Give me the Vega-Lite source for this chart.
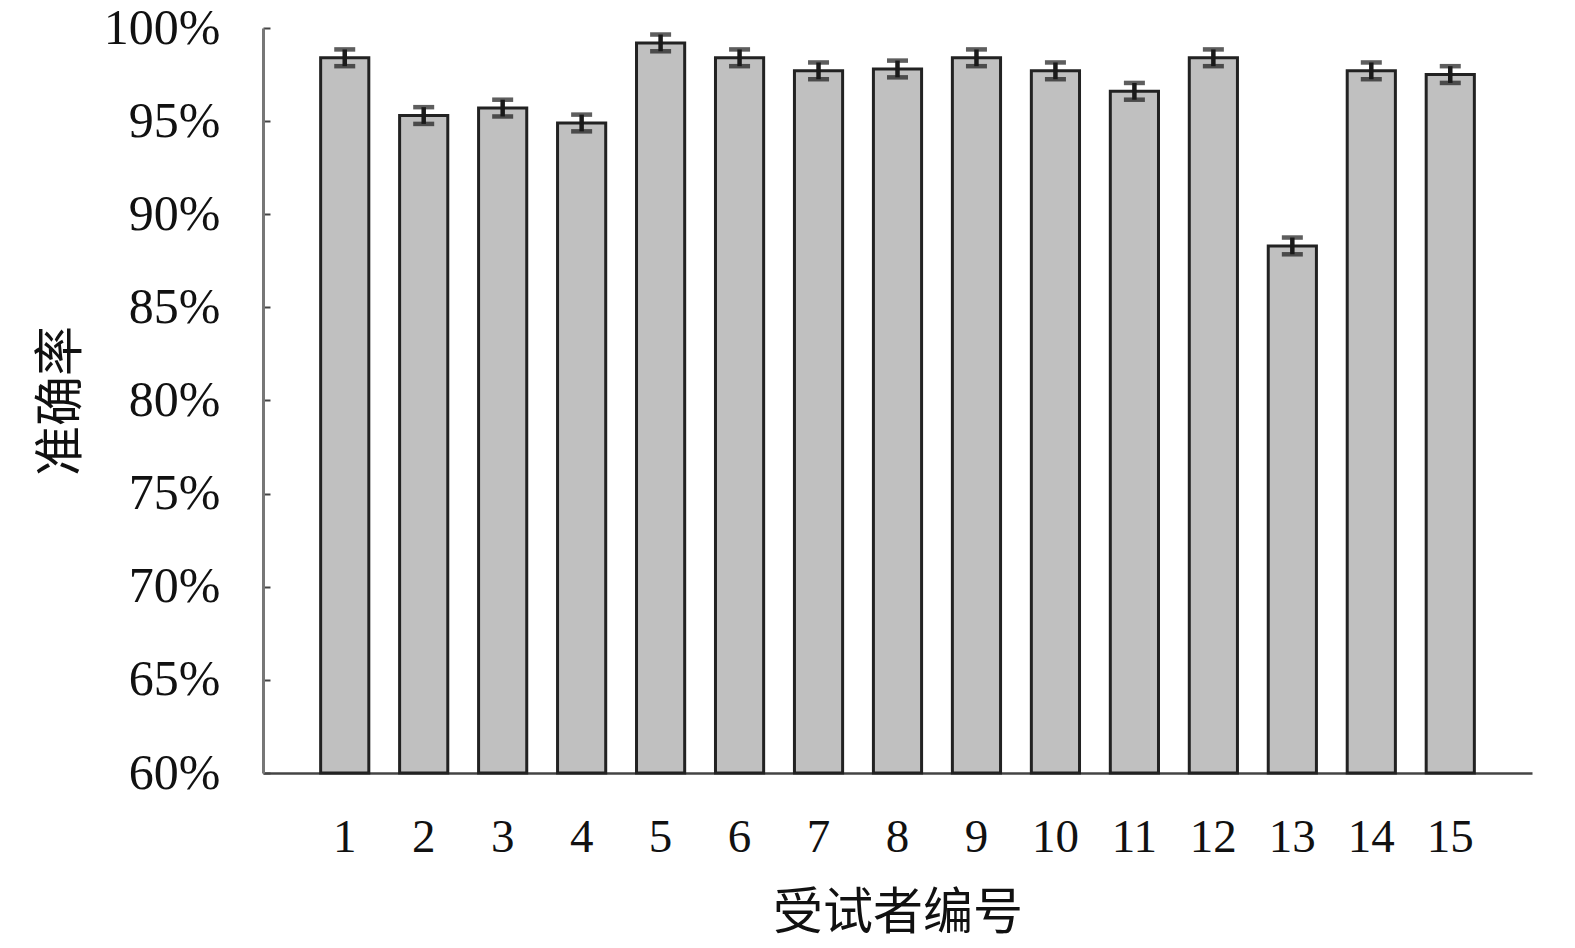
{
  "$schema": "https://vega.github.io/schema/vega-lite/v6.json",
  "autosize": {"type": "none"},
  "padding": {"left": 263, "top": 28, "right": 43, "bottom": 175},
  "width": 1269,
  "height": 745,
  "background": "white",
  "config": {"view": {"stroke": null}},
  "data": {"values": [
    {"id": "1", "acc": 0.984, "lo": 0.9795, "hi": 0.9885},
    {"id": "2", "acc": 0.953, "lo": 0.9485, "hi": 0.9575},
    {"id": "3", "acc": 0.957, "lo": 0.9525, "hi": 0.9615},
    {"id": "4", "acc": 0.949, "lo": 0.9445, "hi": 0.9535},
    {"id": "5", "acc": 0.992, "lo": 0.9875, "hi": 0.9965},
    {"id": "6", "acc": 0.984, "lo": 0.9795, "hi": 0.9885},
    {"id": "7", "acc": 0.977, "lo": 0.9725, "hi": 0.9815},
    {"id": "8", "acc": 0.978, "lo": 0.9735, "hi": 0.9825},
    {"id": "9", "acc": 0.984, "lo": 0.9795, "hi": 0.9885},
    {"id": "10", "acc": 0.977, "lo": 0.9725, "hi": 0.9815},
    {"id": "11", "acc": 0.966, "lo": 0.9615, "hi": 0.9705},
    {"id": "12", "acc": 0.984, "lo": 0.9795, "hi": 0.9885},
    {"id": "13", "acc": 0.883, "lo": 0.8785, "hi": 0.8875},
    {"id": "14", "acc": 0.977, "lo": 0.9725, "hi": 0.9815},
    {"id": "15", "acc": 0.975, "lo": 0.9705, "hi": 0.9795}
  ]},
  "encoding": {
    "x": {
      "field": "id", "type": "nominal", "sort": null,
      "scale": {"paddingInner": 0.39, "paddingOuter": 0.73},
      "axis": {
        "title": "受试者编号",
        "labelAngle": 0,
        "labelFont": "Liberation Serif", "labelFontSize": 47, "labelColor": "#111",
        "labelPadding": 48,
        "tickSize": -7, "tickColor": "#333", "tickWidth": 2,
        "domainColor": "#444", "domainWidth": 2.5,
        "titleFont": "Noto Sans CJK SC", "titleFontSize": 50, "titleFontWeight": "normal", "titleColor": "#111",
        "titlePadding": 28
      }
    }
  },
  "layer": [
    {
      "mark": {"type": "bar", "fill": "#c0c0c0", "stroke": "#222", "strokeWidth": 3},
      "encoding": {
        "y": {
          "field": "acc", "type": "quantitative",
          "scale": {"domain": [0.6, 1.0], "zero": false, "nice": false},
          "axis": {
            "title": "准确率",
            "format": ".0%", "values": [0.6, 0.65, 0.7, 0.75, 0.8, 0.85, 0.9, 0.95, 1.0],
            "labelOverlap": false,
            "grid": false,
            "labelFont": "Liberation Serif", "labelFontSize": 50, "labelColor": "#111",
            "labelPadding": 50,
            "tickSize": -7, "tickColor": "#444", "tickWidth": 2,
            "domainColor": "#777", "domainWidth": 3,
            "titleFont": "Noto Sans CJK SC", "titleFontSize": 50, "titleFontWeight": "normal", "titleColor": "#111",
            "titlePadding": 17
          }
        },
        "y2": {"datum": 0.6}
      }
    },
    {
      "mark": {"type": "rule", "color": "#1a1a1a", "strokeWidth": 4.5},
      "encoding": {
        "y": {"field": "lo", "type": "quantitative"},
        "y2": {"field": "hi"}
      }
    },
    {
      "mark": {"type": "tick", "color": "#1a1a1a", "size": 21, "thickness": 4.5},
      "encoding": {"y": {"field": "lo", "type": "quantitative"}}
    },
    {
      "mark": {"type": "tick", "color": "#1a1a1a", "size": 21, "thickness": 4.5},
      "encoding": {"y": {"field": "hi", "type": "quantitative"}}
    }
  ]
}
